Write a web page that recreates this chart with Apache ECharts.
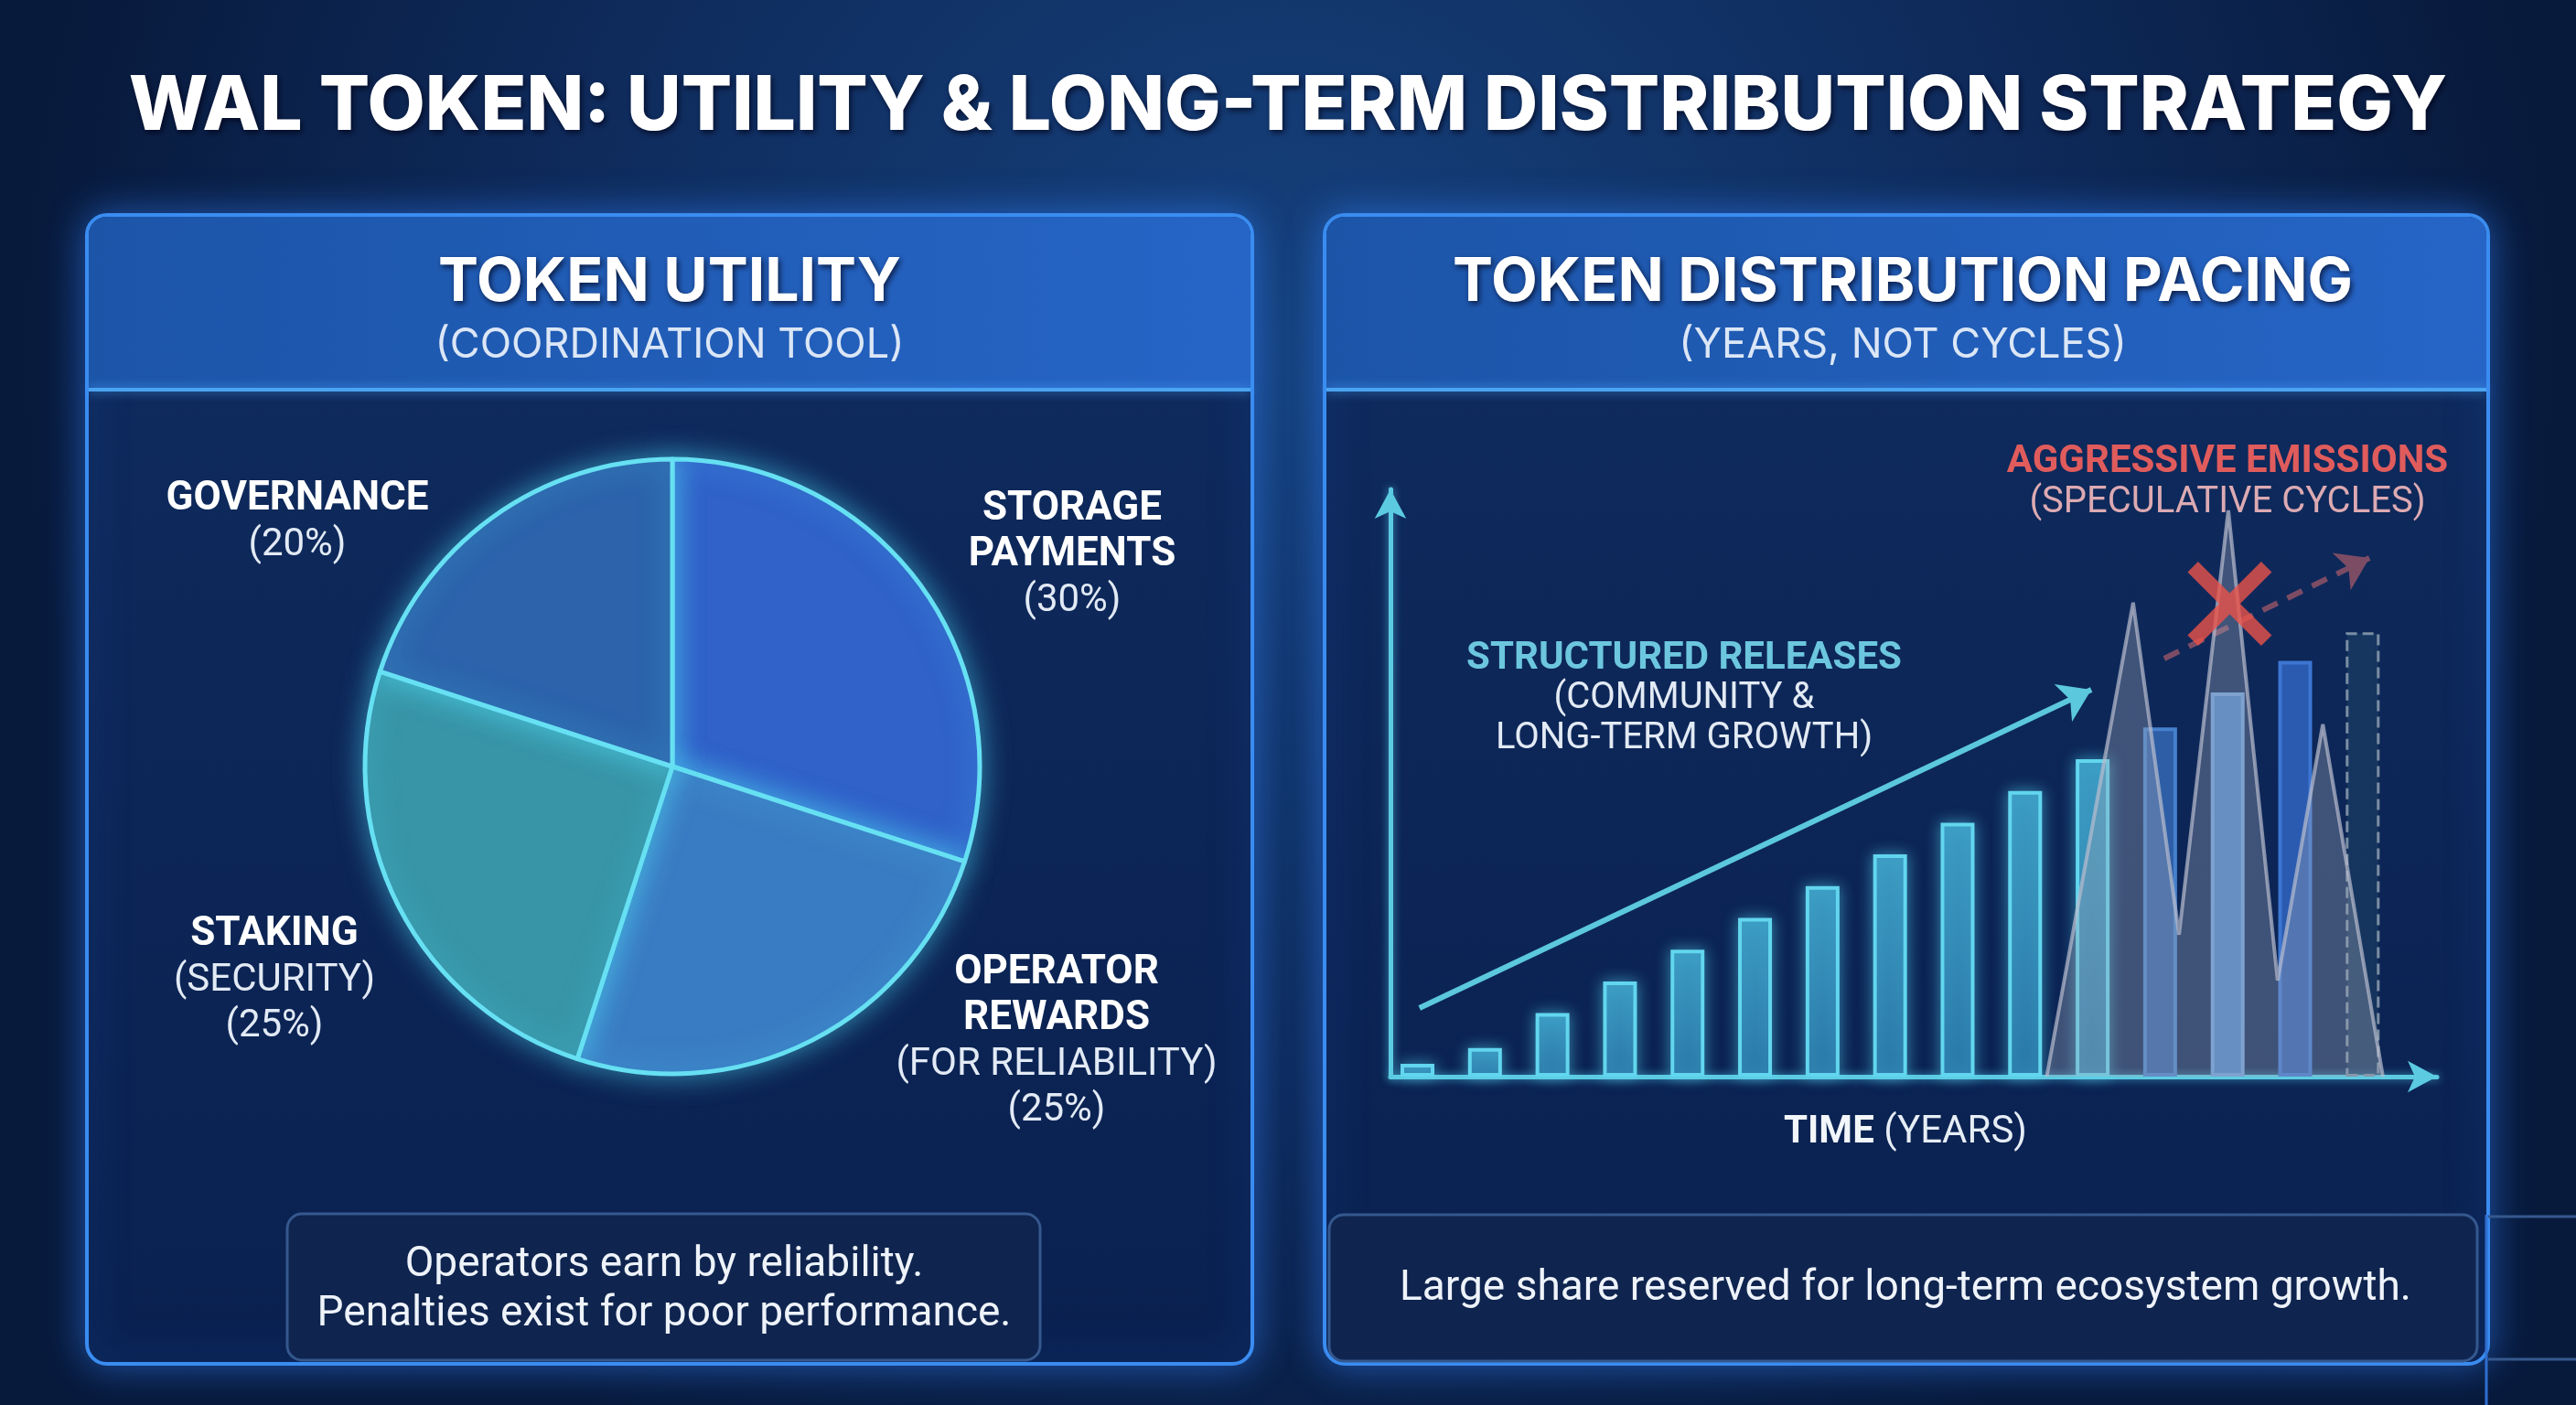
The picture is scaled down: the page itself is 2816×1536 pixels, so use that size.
<!DOCTYPE html>
<html>
<head>
<meta charset="utf-8">
<script src="https://cdn.jsdelivr.net/npm/echarts@6/dist/echarts.min.js"></script>
<style>
html,body{margin:0;padding:0;background:#0b1f45;}
#c{width:2816px;height:1536px;}
</style>
</head>
<body>
<div id="c"></div>
<script>
// ---------- data ----------
var utilityNames = ['STORAGE\nPAYMENTS', 'OPERATOR\nREWARDS', 'STAKING', 'GOVERNANCE'];
var utilityNotes = ['', '(FOR RELIABILITY)', '(SECURITY)', ''];
var utilityValues = [30, 25, 25, 20];

var yearIndex = [0, 1, 2, 3, 4, 5, 6, 7, 8, 9, 10, 11, 12, 13, 14];
var releaseValues = [0.4, 0.9, 2.0, 3.0, 4.0, 5.0, 6.0, 7.0, 8.0, 9.0, 10.0, 11.0, 12.1, 13.1, 14.0];

var spikeX = [9.32, 10.6, 11.28, 12.01, 12.74, 13.41, 14.3];
var spikeY = [0, 14.93, 4.47, 17.84, 3.03, 11.1, 0];

var structuredArrow = [[0.03, 2.16], [9.98, 12.19]];
var speculativeArrow = [[11.06, 13.17], [14.1, 16.34]];
var rejectMark = [12.03, 14.9];

// ---------- layout / style ----------
var FONT = 'Roboto, "Noto Sans", sans-serif';
var HFONT = 'Inter, Roboto, sans-serif';
var pieLabelPos = [[1172, 607], [1155, 1139], [300, 1072], [325, 571]];
var sliceColors = ['#3062c9', '#3a7cc3', '#3895a8', '#2c63ab'];

var chart = echarts.init(document.getElementById('c'), null, {renderer: 'canvas', width: 2816, height: 1536});

function panel(x, y, w, h) {
  return [
    {type: 'rect', z: 1, shape: {x: x, y: y, width: w, height: h, r: 22},
      style: {fill: new echarts.graphic.LinearGradient(0, 0, 0, 1, [{offset: 0, color: '#0f2b5e'}, {offset: 1, color: '#0a2150'}]),
        stroke: '#3a8cf0', lineWidth: 4, shadowBlur: 40, shadowColor: 'rgba(50,130,255,0.55)'}},
    {type: 'rect', z: 1, shape: {x: x + 2, y: y + 2, width: w - 4, height: 189, r: [20, 20, 0, 0]},
      style: {fill: new echarts.graphic.LinearGradient(0, 0, 1, 0, [{offset: 0, color: '#1c55a8'}, {offset: 1, color: '#2665c6'}])}},
    {type: 'line', z: 1, shape: {x1: x + 2, y1: y + 191, x2: x + w - 2, y2: y + 191},
      style: {stroke: '#4aa4f2', lineWidth: 4, shadowBlur: 12, shadowColor: 'rgba(80,170,255,0.8)'}}
  ];
}
function box(x, y, w, h) {
  return {type: 'rect', z: 1, shape: {x: x, y: y, width: w, height: h, r: 16},
    style: {fill: 'rgba(18,38,78,0.75)', stroke: '#35588e', lineWidth: 3}};
}
function txt(t, x, y, font, color, extra) {
  var s = {text: t, x: x, y: y, font: font, fill: color, align: 'center', verticalAlign: 'middle'};
  if (extra) for (var k in extra) s[k] = extra[k];
  return {type: 'text', z: 10, style: s};
}

var elements = [
  {type: 'rect', z: 0, shape: {x: 0, y: 0, width: 2816, height: 1536},
    style: {fill: new echarts.graphic.RadialGradient(0.5, 0.25, 0.9, [{offset: 0, color: '#16427e'}, {offset: 0.6, color: '#0e2a5a'}, {offset: 1, color: '#081a3c'}])}}
];
elements = elements.concat(panel(95, 235, 1274, 1256));
elements = elements.concat(panel(1448, 235, 1272, 1256));
elements.push(box(314, 1327, 823, 160));
elements.push(box(1453, 1328, 1255, 160));
elements.push({type: 'line', z: 1, shape: {x1: 2718, y1: 1328, x2: 2718, y2: 1536}, style: {stroke: '#2f6fd0', lineWidth: 3}});
elements.push({type: 'line', z: 1, shape: {x1: 2720, y1: 1330, x2: 2816, y2: 1330}, style: {stroke: '#35588e', lineWidth: 3}});
elements.push({type: 'line', z: 1, shape: {x1: 2720, y1: 1486, x2: 2816, y2: 1486}, style: {stroke: '#35588e', lineWidth: 3}});

var shadow = {textShadowColor: 'rgba(0,0,20,0.7)', textShadowBlur: 6, textShadowOffsetX: 2, textShadowOffsetY: 3};
elements.push(txt('WAL TOKEN: UTILITY & LONG-TERM DISTRIBUTION STRATEGY', 1408, 117, '800 82px ' + HFONT, '#ffffff', shadow));
elements.push(txt('TOKEN UTILITY', 732, 309, 'bold 66px ' + HFONT, '#ffffff', shadow));
elements.push(txt('(COORDINATION TOOL)', 732, 377, '400 45px ' + HFONT, '#dbe6f6'));
elements.push(txt('TOKEN DISTRIBUTION PACING', 2080, 309, 'bold 66px ' + HFONT, '#ffffff', shadow));
elements.push(txt('(YEARS, NOT CYCLES)', 2080, 377, '400 45px ' + HFONT, '#dbe6f6'));
elements.push(txt('Operators earn by reliability.', 726, 1383, '400 46px ' + FONT, '#eef3fa'));
elements.push(txt('Penalties exist for poor performance.', 726, 1437, '400 46px ' + FONT, '#eef3fa'));
elements.push(txt('Large share reserved for long-term ecosystem growth.', 2083, 1409, '400 46px ' + FONT, '#eef3fa'));
elements.push(txt('STRUCTURED RELEASES', 1841, 720, 'bold 42px ' + FONT, '#6cc6de'));
elements.push(txt('(COMMUNITY &', 1841, 764, '400 40px ' + FONT, '#e2eaf4'));
elements.push(txt('LONG-TERM GROWTH)', 1841, 808, '400 40px ' + FONT, '#e2eaf4'));
elements.push(txt('AGGRESSIVE EMISSIONS', 2435, 505, 'bold 42px ' + FONT, '#e05c5c'));
elements.push(txt('(SPECULATIVE CYCLES)', 2435, 550, '400 40px ' + FONT, '#dcaab2'));
elements.push({type: 'text', z: 10, style: {
  text: '{b|TIME\u00a0}{r|(YEARS)}', x: 2083, y: 1238, align: 'center', verticalAlign: 'middle',
  rich: {b: {font: 'bold 42px ' + FONT, fill: '#f2f6fa'}, r: {font: '400 42px ' + FONT, fill: '#e6edf5'}}
}});

// bars styled by phase
var barData = yearIndex.map(function (x, i) {
  var st;
  if (i <= 10) {
    st = {color: new echarts.graphic.LinearGradient(0, 0, 0, 1, [{offset: 0, color: 'rgba(62,160,200,0.85)'}, {offset: 1, color: 'rgba(40,118,168,0.85)'}]),
      borderColor: '#62d6ee', borderWidth: 4, shadowBlur: 16, shadowColor: 'rgba(90,220,245,0.55)'};
  } else if (i === 11) {
    st = {color: '#2d5ea6', borderColor: '#4680cc', borderWidth: 4};
  } else if (i === 12) {
    st = {color: '#4b83c6', borderColor: '#6d9fdc', borderWidth: 4};
  } else if (i === 13) {
    st = {color: '#2a5bb0', borderColor: '#3c76d2', borderWidth: 4};
  } else {
    st = {color: 'rgba(40,84,112,0.35)', borderColor: '#7a8ea2', borderWidth: 3, borderType: 'dashed'};
  }
  return {value: [x, releaseValues[i]], itemStyle: st};
});

var spikeData = spikeX.map(function (x, i) { return [x, spikeY[i]]; });

var option = {
  animation: false,
  backgroundColor: '#0b1f45',
  graphic: {elements: elements},
  grid: {left: 1520, top: 535, width: 1144, height: 642, containLabel: false},
  xAxis: {
    type: 'value', min: -0.4, max: 15.1, z: 5,
    axisLine: {show: true, symbol: ['none', 'arrow'], symbolSize: [26, 32], symbolOffset: [0, 0],
      lineStyle: {color: '#5ccbe2', width: 5, shadowBlur: 10, shadowColor: 'rgba(90,210,240,0.7)'}},
    axisTick: {show: false}, axisLabel: {show: false}, splitLine: {show: false}
  },
  yAxis: {
    type: 'value', min: 0, max: 18.5, z: 5,
    axisLine: {show: true, onZero: false, symbol: ['none', 'arrow'], symbolSize: [26, 32],
      lineStyle: {color: '#5ccbe2', width: 5, shadowBlur: 10, shadowColor: 'rgba(90,210,240,0.7)'}},
    axisTick: {show: false}, axisLabel: {show: false}, splitLine: {show: false}
  },
  series: [
    {
      type: 'pie', z: 6, center: [735, 838], radius: 336, startAngle: 90, clockwise: true,
      silent: true, emphasis: {disabled: true},
      data: utilityValues.map(function (v, i) {
        return {value: v, name: utilityNames[i], itemStyle: {color: sliceColors[i]}};
      }),
      itemStyle: {borderColor: '#66e0f2', borderWidth: 5, shadowBlur: 30, shadowColor: 'rgba(80,220,245,0.55)'},
      labelLine: {show: false},
      label: {
        show: true,
        formatter: function (p) {
          var lines = p.name.split('\n').map(function (s) { return '{b|' + s + '}'; });
          var note = utilityNotes[p.dataIndex];
          if (note) lines.push('{n|' + note + '}');
          lines.push('{n|(' + p.value + '%)}');
          return lines.join('\n');
        },
        rich: {
          b: {fontFamily: FONT, fontWeight: 'bold', fontSize: 44, color: '#ffffff', lineHeight: 50, align: 'center'},
          n: {fontFamily: FONT, fontWeight: 400, fontSize: 42, color: '#e2eaf5', lineHeight: 50, align: 'center'}
        }
      },
      labelLayout: function (p) {
        var pos = pieLabelPos[p.dataIndex];
        return {x: pos[0], y: pos[1], align: 'center', verticalAlign: 'middle'};
      }
    },
    {
      type: 'bar', z: 6, barWidth: 37, data: barData, silent: true,
      markLine: {
        silent: true, symbol: ['none', 'arrow'], symbolSize: 34, label: {show: false},
        data: [
          [{coord: structuredArrow[0], lineStyle: {color: '#5cc8dd', width: 6, type: 'solid'}}, {coord: structuredArrow[1]}],
          [{coord: speculativeArrow[0], lineStyle: {color: '#7c4c64', width: 6, type: [18, 12]}}, {coord: speculativeArrow[1]}]
        ]
      }
    },
    {
      type: 'line', z: 7, data: spikeData, symbol: 'none', silent: true,
      lineStyle: {color: 'rgba(185,190,206,0.7)', width: 4},
      areaStyle: {color: 'rgba(160,166,184,0.5)'}
    },
    {
      type: 'scatter', z: 8, silent: true, data: [rejectMark], symbolSize: 92,
      symbol: 'path://M2.5,0 L10,7.5 L17.5,0 L20,2.5 L12.5,10 L20,17.5 L17.5,20 L10,12.5 L2.5,20 L0,17.5 L7.5,10 L0,2.5 Z',
      itemStyle: {color: '#ea5349'}
    }
  ]
};
chart.setOption(option);
</script>
</body>
</html>
